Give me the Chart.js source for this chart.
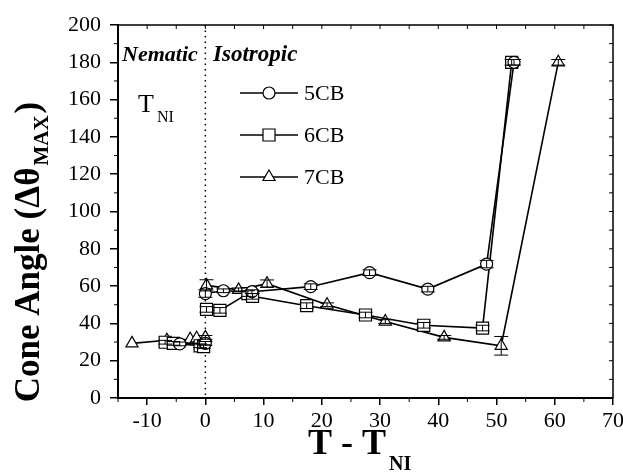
<!DOCTYPE html>
<html>
<head>
<meta charset="utf-8">
<script src="https://cdn.jsdelivr.net/npm/chart.js@4.4.1/dist/chart.umd.min.js"></script>
<style>
  html, body { margin: 0; padding: 0; background: #fff; }
  #wrap { width: 623px; height: 473px; }
</style>
</head>
<body>
<div id="wrap"><canvas id="chart1"></canvas></div>
<script>
// tick labels
const xTicks = [-10, 0, 10, 20, 30, 40, 50, 60, 70];
const yTicks = [0, 20, 40, 60, 80, 100, 120, 140, 160, 180, 200];

// 5CB (null breaks the line at the transition)
const t5CB = [-4.4, 0, 0, 0, 3.1, 8, 18.1, 28.2, 38.2, 48.3, 53];
const a5CB = [29, 29.3, null, 56, 57.5, 57, 59.7, 67.2, 58.4, 71.8, 180];
const e5CB = [1, 1, 0, 2, 1, 1, 1.5, 1.5, 1.5, 2, 1.5];

// 6CB
const t6CB = [-6.9, -5.5, -0.9, -0.3, 0, 0.2, 2.5, 7.3, 8.1, 17.4, 27.5, 37.5, 47.6, 52.6];
const a6CB = [29.9, 29.3, 28, 27.5, null, 47.5, 47, 56, 54.5, 49.5, 44.5, 39, 37.5, 180];
const e6CB = [1, 1, 1, 1, 0, 1.5, 1.5, 1.5, 1.5, 1.5, 1.5, 1.5, 1.5, 1.5];

// 7CB
const t7CB = [-12.6, -6.6, -2.6, -1.5, 0, 0, 0.2, 5.7, 10.6, 20.9, 30.9, 41, 50.8, 60.6];
const a7CB = [29.3, 31, 31.5, 32, 32.5, null, 60.4, 58, 61.3, 50, 41, 32.5, 28, 180];
const e7CB = [0, 0, 0, 0, 1, 0, 3, 1, 2, 1, 1, 1, 5, 1.5];

const SERIF = '"Liberation Serif", "Times New Roman", serif';

function pts(t, a) {
    return t.map((v, i) => ({ x: v, y: a[i] }));
}

// dotted line at T = TNI
const transitionLine = {
    id: 'transitionLine',
    beforeDatasetsDraw(chart) {
        const ctx = chart.ctx, x = chart.scales.x.getPixelForValue(0);
        const area = chart.chartArea;
        ctx.save();
        ctx.strokeStyle = '#000';
        ctx.lineWidth = 1.5;
        ctx.setLineDash([1.5, 4]);
        ctx.beginPath();
        ctx.moveTo(x, area.top);
        ctx.lineTo(x, area.bottom);
        ctx.stroke();
        ctx.restore();
    }
};

// error bars
const errorBars = {
    id: 'errorBars',
    afterDatasetsDraw(chart) {
        const ctx = chart.ctx, ys = chart.scales.y;
        ctx.save();
        ctx.strokeStyle = '#000';
        ctx.lineWidth = 1;
        chart.data.datasets.forEach((ds, di) => {
            const meta = chart.getDatasetMeta(di);
            ds.errors.forEach((err, i) => {
                const p = ds.data[i];
                if (p.y === null || !err) return;
                const px = meta.data[i].x;
                const top = ys.getPixelForValue(p.y + err);
                const bot = ys.getPixelForValue(p.y - err);
                ctx.beginPath();
                ctx.moveTo(px, top); ctx.lineTo(px, bot);
                ctx.moveTo(px - 7, top); ctx.lineTo(px + 7, top);
                ctx.moveTo(px - 7, bot); ctx.lineTo(px + 7, bot);
                ctx.stroke();
            });
        });
        ctx.restore();
    }
};

// frame, minor ticks, legend, labels
const decorations = {
    id: 'decorations',
    afterDraw(chart) {
        const ctx = chart.ctx, a = chart.chartArea;
        const xs = chart.scales.x, ys = chart.scales.y;
        ctx.save();
        ctx.strokeStyle = '#000';
        ctx.fillStyle = '#000';

        // top and right axes
        ctx.lineWidth = 1.5;
        ctx.beginPath();
        ctx.moveTo(a.left, a.top); ctx.lineTo(a.right, a.top); ctx.lineTo(a.right, a.bottom);
        ctx.stroke();

        ctx.lineWidth = 1;
        ctx.beginPath();
        for (let v = -15; v <= 70; v += 5) {
            const x = xs.getPixelForValue(v);
            ctx.moveTo(x, a.top); ctx.lineTo(x, a.top + 4);
            if (v % 10 !== 0) { ctx.moveTo(x, a.bottom); ctx.lineTo(x, a.bottom + 4); }
        }
        for (let v = 0; v <= 200; v += 10) {
            const y = ys.getPixelForValue(v);
            ctx.moveTo(a.right, y); ctx.lineTo(a.right - 4, y);
            if (v % 20 !== 0) { ctx.moveTo(a.left, y); ctx.lineTo(a.left - 4, y); }
        }
        ctx.stroke();

        // phase labels
        ctx.font = 'italic bold 22px ' + SERIF;
        ctx.textBaseline = 'alphabetic';
        ctx.textAlign = 'left';
        ctx.fillText('Nematic', 122, 61);
        ctx.font = 'italic bold 23px ' + SERIF;
        ctx.fillText('Isotropic', 213, 61);

        ctx.font = '26px ' + SERIF;
        ctx.fillText('T', 138, 112);
        ctx.font = '16px ' + SERIF;
        ctx.fillText('NI', 157, 122);

        // legend
        const rows = [
            { label: '5CB', y: 93, ds: 0 },
            { label: '6CB', y: 135, ds: 1 },
            { label: '7CB', y: 177, ds: 2 }
        ];
        rows.forEach(r => {
            const ds = chart.data.datasets[r.ds];
            ctx.lineWidth = 1.5;
            ctx.strokeStyle = '#000';
            ctx.beginPath();
            ctx.moveTo(240, r.y); ctx.lineTo(298, r.y);
            ctx.stroke();
            ctx.fillStyle = '#fff';
            ctx.lineWidth = 1.2;
            Chart.helpers.drawPoint(ctx, { pointStyle: ds.pointStyle, radius: ds.pointRadius, rotation: 0, borderWidth: 1.2 }, 269, r.y);
            ctx.fillStyle = '#000';
            ctx.font = '22px ' + SERIF;
            ctx.textBaseline = 'middle';
            ctx.fillText(r.label, 304, r.y + 1);
        });

        // x title
        ctx.textBaseline = 'alphabetic';
        ctx.font = 'bold 36px ' + SERIF;
        ctx.textAlign = 'left';
        ctx.fillText('T - T', 308, 454);
        const w = ctx.measureText('T - T').width;
        ctx.font = 'bold 20px ' + SERIF;
        ctx.fillText('NI', 308 + w + 3, 470);

        // y title
        ctx.translate(39, 252);
        ctx.rotate(-Math.PI / 2);
        const main = 'Cone Angle (\u0394\u03B8';
        ctx.font = 'bold 35px ' + SERIF;
        const w1 = ctx.measureText(main).width;
        const wc = ctx.measureText(')').width;
        ctx.font = 'bold 21px ' + SERIF;
        const w2 = ctx.measureText('MAX').width;
        let x0 = -(w1 + w2 + wc + 4) / 2;
        ctx.font = 'bold 35px ' + SERIF;
        ctx.fillText(main, x0, 0);
        ctx.font = 'bold 21px ' + SERIF;
        ctx.fillText('MAX', x0 + w1 + 2, 9);
        ctx.font = 'bold 35px ' + SERIF;
        ctx.fillText(')', x0 + w1 + w2 + 4, 0);

        ctx.restore();
    }
};

function series(label, t, a, e, style, r) {
    return {
        label: label,
        data: pts(t, a),
        errors: e,
        showLine: true,
        spanGaps: false,
        borderColor: '#000',
        borderWidth: 1.6,
        pointStyle: style,
        pointRadius: r,
        pointBackgroundColor: '#fff',
        pointBorderColor: '#000',
        pointBorderWidth: 1.2
    };
}

const ctx = document.getElementById('chart1').getContext('2d');
const myChart = new Chart(ctx, {
    type: 'scatter',
    data: {
        datasets: [
            series('5CB', t5CB, a5CB, e5CB, 'circle', 6),
            series('6CB', t6CB, a6CB, e6CB, 'rect', 8.5),
            series('7CB', t7CB, a7CB, e7CB, 'triangle', 7)
        ]
    },
    options: {
        responsive: true,
        maintainAspectRatio: false,
        animation: false,
        layout: { padding: { top: 25, right: 10, left: 0, bottom: 0 } },
        plugins: {
            legend: { display: false },
            tooltip: { enabled: false }
        },
        scales: {
            x: {
                type: 'linear',
                min: -15,
                max: 70,
                afterBuildTicks: s => { s.ticks = xTicks.map(v => ({ value: v })); },
                afterFit: s => { s.height = 75; s.paddingRight = 0; s.paddingLeft = 0; },
                grid: { drawOnChartArea: false, drawTicks: true, tickLength: 7, color: '#000', lineWidth: 1.5 },
                border: { display: true, color: '#000', width: 2 },
                ticks: { color: '#000', font: { family: SERIF, size: 22 }, padding: 3, maxRotation: 0, autoSkip: false }
            },
            y: {
                min: 0,
                max: 200,
                afterBuildTicks: s => { s.ticks = yTicks.map(v => ({ value: v })); },
                afterFit: s => { s.width = 118; },
                grid: { drawOnChartArea: false, drawTicks: true, tickLength: 8, color: '#000', lineWidth: 1.5 },
                border: { display: true, color: '#000', width: 2 },
                ticks: { color: '#000', font: { family: SERIF, size: 22 }, padding: 9, autoSkip: false }
            }
        }
    },
    plugins: [transitionLine, errorBars, decorations]
});
</script>
</body>
</html>
